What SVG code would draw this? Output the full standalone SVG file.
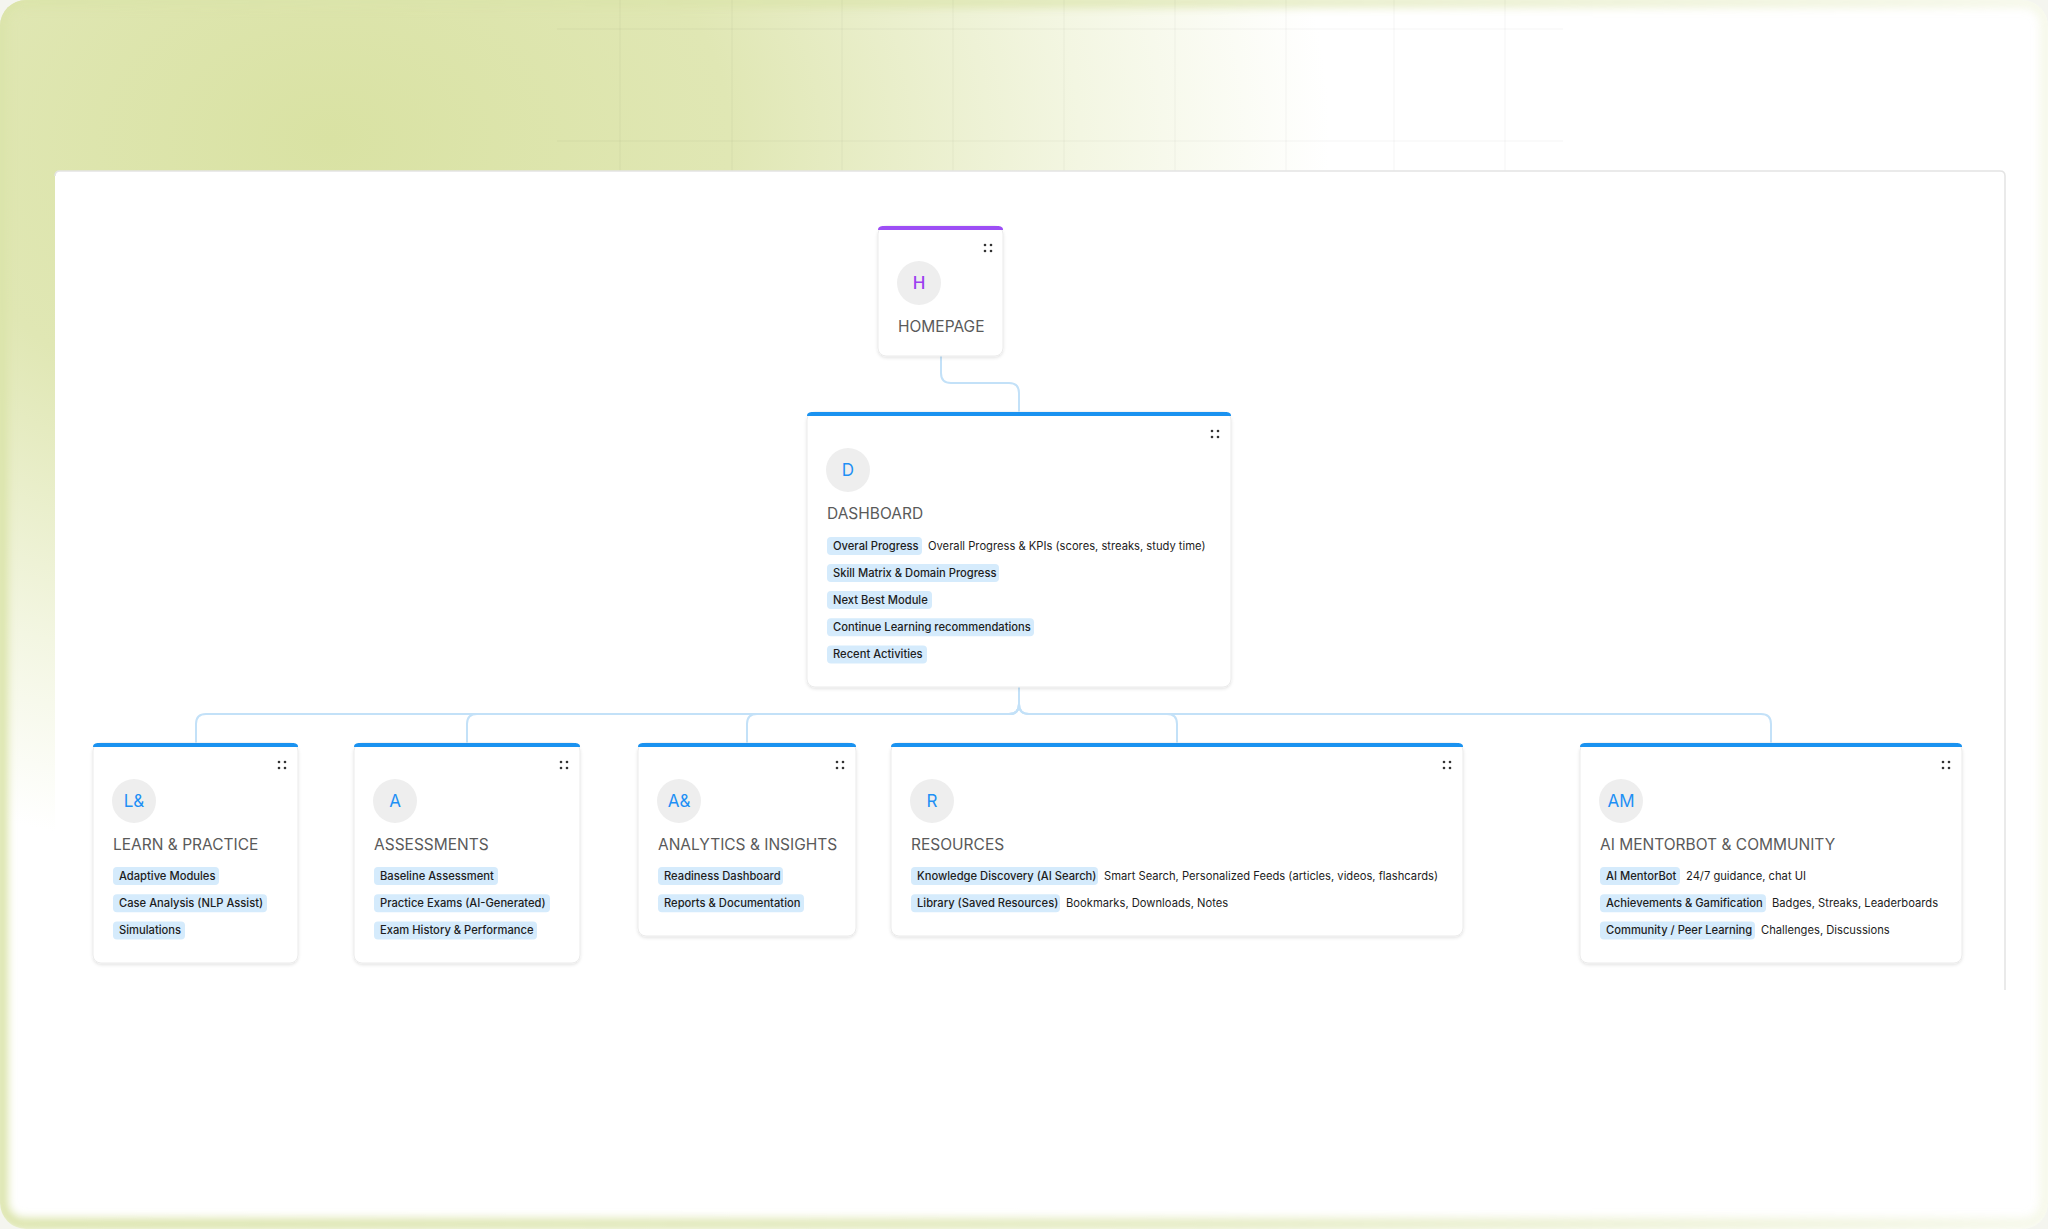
<svg xmlns="http://www.w3.org/2000/svg" width="2048" height="1229" viewBox="0 0 2048 1229">
<defs>
  <radialGradient id="bgGreen" gradientUnits="userSpaceOnUse" cx="330" cy="140" r="1000" gradientTransform="translate(330 140) scale(1 0.72) translate(-330 -140)">
    <stop offset="0" stop-color="#d9e2a3"/>
    <stop offset="0.4" stop-color="#e0e7b4"/>
    <stop offset="0.75" stop-color="#f3f6e2"/>
    <stop offset="1" stop-color="#ffffff"/>
  </radialGradient>
  <linearGradient id="fadeRight" gradientUnits="userSpaceOnUse" x1="0" y1="0" x2="2048" y2="0">
    <stop offset="0" stop-color="#fff" stop-opacity="1"/>
    <stop offset="0.6" stop-color="#fff" stop-opacity="0.7"/>
    <stop offset="1" stop-color="#fff" stop-opacity="0.25"/>
  </linearGradient>
  <mask id="glowMask">
    <rect x="0" y="0" width="2048" height="1229" fill="url(#fadeRight)"/>
  </mask>
  <filter id="glow" x="-5%" y="-5%" width="110%" height="110%">
    <feGaussianBlur stdDeviation="4"/>
  </filter>
  <clipPath id="frameClip">
    <rect x="0" y="0" width="2048" height="1229" rx="26"/>
  </clipPath>
  <filter id="shadow" x="-10%" y="-10%" width="120%" height="130%">
    <feDropShadow dx="0" dy="1.5" stdDeviation="1.5" flood-color="#000" flood-opacity="0.11"/>
  </filter>
  <style>
    .card{fill:#ffffff;stroke:#ebebeb;stroke-width:1;filter:url(#shadow)}
    .barBlue{fill:#1a92f0}
    .barPurple{fill:#9d4ef5}
    .avatar{fill:#eeeeee}
    .ltrBlue{font-family:Inter,"Liberation Sans",sans-serif;font-size:17px;fill:#1e90f5;text-anchor:middle}
    .ltrPurple{font-family:Inter,"Liberation Sans",sans-serif;font-size:17px;fill:#9b3ff0;text-anchor:middle;font-weight:500}
    .title{font-family:Inter,"Liberation Sans",sans-serif;font-size:15.5px;fill:#5a5a5a}
    .tag{fill:#d5ebfc}
    .tagt{font-family:Inter,"Liberation Sans",sans-serif;font-size:11.2px;font-weight:500;fill:#1d1d1d}
    .desc{font-family:Inter,"Liberation Sans",sans-serif;font-size:11.2px;fill:#1d1d1d}
    .dot{fill:#333333}
    .conn{fill:none;stroke:#c3e1f8;stroke-width:2}
    .grid{stroke:#000;stroke-opacity:0.045;stroke-width:1}
  </style>
</defs>

<!-- background frame -->
<rect x="0" y="0" width="2048" height="1229" fill="#f4f5ef"/>
<g clip-path="url(#frameClip)">
  <rect x="0" y="0" width="2048" height="1229" fill="url(#bgGreen)"/>
  <g mask="url(#glowMask)">
    <rect x="2" y="2" width="2044" height="1222" rx="22" fill="none" stroke="#dbe4aa" stroke-width="12" filter="url(#glow)"/>
  </g>
</g>
<g id="grid">
  <line class="grid" x1="557" y1="29" x2="1563" y2="29"/>
  <line class="grid" x1="557" y1="141" x2="1563" y2="141"/>
  <line class="grid" x1="620" y1="0" x2="620" y2="171"/>
  <line class="grid" x1="732" y1="0" x2="732" y2="171"/>
  <line class="grid" x1="842" y1="0" x2="842" y2="171"/>
  <line class="grid" x1="953" y1="0" x2="953" y2="171"/>
  <line class="grid" x1="1064" y1="0" x2="1064" y2="171"/>
  <line class="grid" x1="1175" y1="0" x2="1175" y2="171"/>
  <line class="grid" x1="1286" y1="0" x2="1286" y2="171"/>
  <line class="grid" x1="1394" y1="0" x2="1394" y2="171"/>
  <line class="grid" x1="1505" y1="0" x2="1505" y2="171"/>
</g>
<!-- inner white panel -->
<path d="M55,997 V176 Q55,171 60,171 H2000 Q2005,171 2005,176 V997 Z" fill="#ffffff"/>
<path d="M55,176 Q55,171 60,171 H2000 Q2005,171 2005,176 V990" fill="none" stroke="#e4e4e4" stroke-width="1.5"/>

<!-- connectors -->
<g id="connectors">
  <path class="conn" d="M941,356 V373 Q941,383 951,383 H1009 Q1019,383 1019,393 V412"/>
  <path class="conn" d="M1019,687 V704 Q1019,714 1009,714 H206 Q196,714 196,724 V743"/>
  <path class="conn" d="M1019,687 V704 Q1019,714 1009,714 H477 Q467,714 467,724 V743"/>
  <path class="conn" d="M1019,687 V704 Q1019,714 1009,714 H757 Q747,714 747,724 V743"/>
  <path class="conn" d="M1019,687 V704 Q1019,714 1029,714 H1167 Q1177,714 1177,724 V743"/>
  <path class="conn" d="M1019,687 V704 Q1019,714 1029,714 H1761 Q1771,714 1771,724 V743"/>
</g>

<!-- Homepage -->
<g id="node-homepage">
  <rect class="card" x="878" y="226" width="125" height="130" rx="8"/>
  <path class="barPurple" d="M878,230 C878,227 880,226 884,226 H997 C1001,226 1003,227 1003,230 Z"/>
  <circle class="dot" cx="985" cy="245" r="1.3"/><circle class="dot" cx="991" cy="245" r="1.3"/>
  <circle class="dot" cx="985" cy="251" r="1.3"/><circle class="dot" cx="991" cy="251" r="1.3"/>
  <circle class="avatar" cx="919" cy="283" r="22"/>
  <text class="ltrPurple" x="919" y="289">H</text>
  <text class="title" x="898" y="332">HOMEPAGE</text>
</g>

<!-- Dashboard -->
<g id="node-dashboard">
  <rect class="card" x="807" y="412" width="424" height="275" rx="8"/>
  <path class="barBlue" d="M807,416 C807,413 809,412 813,412 H1225 C1229,412 1231,413 1231,416 Z"/>
  <circle class="dot" cx="1212" cy="431" r="1.3"/><circle class="dot" cx="1218" cy="431" r="1.3"/>
  <circle class="dot" cx="1212" cy="437" r="1.3"/><circle class="dot" cx="1218" cy="437" r="1.3"/>
  <circle class="avatar" cx="848" cy="470" r="22"/>
  <text class="ltrBlue" x="848" y="476">D</text>
  <text class="title" x="827" y="519">DASHBOARD</text>
  <rect class="tag" x="827" y="537" width="95" height="18" rx="4"/>
  <text class="tagt" x="833" y="549.5">Overal Progress</text>
  <text class="desc" x="928" y="549.5">Overall Progress &amp; KPIs (scores, streaks, study time)</text>
  <rect class="tag" x="827" y="564" width="172" height="18" rx="4"/>
  <text class="tagt" x="833" y="576.5">Skill Matrix &amp; Domain Progress</text>
  <rect class="tag" x="827" y="591" width="105" height="18" rx="4"/>
  <text class="tagt" x="833" y="603.5">Next Best Module</text>
  <rect class="tag" x="827" y="618.3" width="207" height="18" rx="4"/>
  <text class="tagt" x="833" y="630.8">Continue Learning recommendations</text>
  <rect class="tag" x="827" y="645.6" width="100" height="18" rx="4"/>
  <text class="tagt" x="833" y="658.1">Recent Activities</text>
</g>

<!-- Learn & Practice -->
<g id="node-learn-practice">
  <rect class="card" x="93" y="743" width="205" height="220" rx="8"/>
  <path class="barBlue" d="M93,747 C93,744 95,743 99,743 H292 C296,743 298,744 298,747 Z"/>
  <circle class="dot" cx="279" cy="762" r="1.3"/><circle class="dot" cx="285" cy="762" r="1.3"/>
  <circle class="dot" cx="279" cy="768" r="1.3"/><circle class="dot" cx="285" cy="768" r="1.3"/>
  <circle class="avatar" cx="134" cy="801" r="22"/>
  <text class="ltrBlue" x="134" y="807">L&amp;</text>
  <text class="title" x="113" y="850">LEARN &amp; PRACTICE</text>
  <rect class="tag" x="113" y="867" width="106" height="18" rx="4"/>
  <text class="tagt" x="119" y="879.5">Adaptive Modules</text>
  <rect class="tag" x="113" y="894.2" width="154" height="18" rx="4"/>
  <text class="tagt" x="119" y="906.7">Case Analysis (NLP Assist)</text>
  <rect class="tag" x="113" y="921.5" width="72" height="18" rx="4"/>
  <text class="tagt" x="119" y="934">Simulations</text>
</g>

<!-- Assessments -->
<g id="node-assessments">
  <rect class="card" x="354" y="743" width="226" height="220" rx="8"/>
  <path class="barBlue" d="M354,747 C354,744 356,743 360,743 H574 C578,743 580,744 580,747 Z"/>
  <circle class="dot" cx="561" cy="762" r="1.3"/><circle class="dot" cx="567" cy="762" r="1.3"/>
  <circle class="dot" cx="561" cy="768" r="1.3"/><circle class="dot" cx="567" cy="768" r="1.3"/>
  <circle class="avatar" cx="395" cy="801" r="22"/>
  <text class="ltrBlue" x="395" y="807">A</text>
  <text class="title" x="374" y="850">ASSESSMENTS</text>
  <rect class="tag" x="374" y="867" width="124" height="18" rx="4"/>
  <text class="tagt" x="380" y="879.5">Baseline Assessment</text>
  <rect class="tag" x="374" y="894.2" width="176" height="18" rx="4"/>
  <text class="tagt" x="380" y="906.7">Practice Exams (AI-Generated)</text>
  <rect class="tag" x="374" y="921.5" width="163" height="18" rx="4"/>
  <text class="tagt" x="380" y="934">Exam History &amp; Performance</text>
</g>

<!-- Analytics & Insights -->
<g id="node-analytics">
  <rect class="card" x="638" y="743" width="218" height="193" rx="8"/>
  <path class="barBlue" d="M638,747 C638,744 640,743 644,743 H850 C854,743 856,744 856,747 Z"/>
  <circle class="dot" cx="837" cy="762" r="1.3"/><circle class="dot" cx="843" cy="762" r="1.3"/>
  <circle class="dot" cx="837" cy="768" r="1.3"/><circle class="dot" cx="843" cy="768" r="1.3"/>
  <circle class="avatar" cx="679" cy="801" r="22"/>
  <text class="ltrBlue" x="679" y="807">A&amp;</text>
  <text class="title" x="658" y="850">ANALYTICS &amp; INSIGHTS</text>
  <rect class="tag" x="658" y="867" width="125" height="18" rx="4"/>
  <text class="tagt" x="664" y="879.5">Readiness Dashboard</text>
  <rect class="tag" x="658" y="894.2" width="146" height="18" rx="4"/>
  <text class="tagt" x="664" y="906.7">Reports &amp; Documentation</text>
</g>

<!-- Resources -->
<g id="node-resources">
  <rect class="card" x="891" y="743" width="572" height="193" rx="8"/>
  <path class="barBlue" d="M891,747 C891,744 893,743 897,743 H1457 C1461,743 1463,744 1463,747 Z"/>
  <circle class="dot" cx="1444" cy="762" r="1.3"/><circle class="dot" cx="1450" cy="762" r="1.3"/>
  <circle class="dot" cx="1444" cy="768" r="1.3"/><circle class="dot" cx="1450" cy="768" r="1.3"/>
  <circle class="avatar" cx="932" cy="801" r="22"/>
  <text class="ltrBlue" x="932" y="807">R</text>
  <text class="title" x="911" y="850">RESOURCES</text>
  <rect class="tag" x="911" y="867" width="187" height="18" rx="4"/>
  <text class="tagt" x="917" y="879.5">Knowledge Discovery (AI Search)</text>
  <text class="desc" x="1104" y="879.5">Smart Search, Personalized Feeds (articles, videos, flashcards)</text>
  <rect class="tag" x="911" y="894.2" width="149" height="18" rx="4"/>
  <text class="tagt" x="917" y="906.7">Library (Saved Resources)</text>
  <text class="desc" x="1066" y="906.7">Bookmarks, Downloads, Notes</text>
</g>

<!-- AI MentorBot & Community -->
<g id="node-ai-mentorbot">
  <rect class="card" x="1580" y="743" width="382" height="220" rx="8"/>
  <path class="barBlue" d="M1580,747 C1580,744 1582,743 1586,743 H1956 C1960,743 1962,744 1962,747 Z"/>
  <circle class="dot" cx="1943" cy="762" r="1.3"/><circle class="dot" cx="1949" cy="762" r="1.3"/>
  <circle class="dot" cx="1943" cy="768" r="1.3"/><circle class="dot" cx="1949" cy="768" r="1.3"/>
  <circle class="avatar" cx="1621" cy="801" r="22"/>
  <text class="ltrBlue" x="1621" y="807">AM</text>
  <text class="title" x="1600" y="850">AI MENTORBOT &amp; COMMUNITY</text>
  <rect class="tag" x="1600" y="867" width="80" height="18" rx="4"/>
  <text class="tagt" x="1606" y="879.5">AI MentorBot</text>
  <text class="desc" x="1686" y="879.5">24/7 guidance, chat UI</text>
  <rect class="tag" x="1600" y="894.2" width="166" height="18" rx="4"/>
  <text class="tagt" x="1606" y="906.7">Achievements &amp; Gamification</text>
  <text class="desc" x="1772" y="906.7">Badges, Streaks, Leaderboards</text>
  <rect class="tag" x="1600" y="921.5" width="155" height="18" rx="4"/>
  <text class="tagt" x="1606" y="934">Community / Peer Learning</text>
  <text class="desc" x="1761" y="934">Challenges, Discussions</text>
</g>
</svg>
